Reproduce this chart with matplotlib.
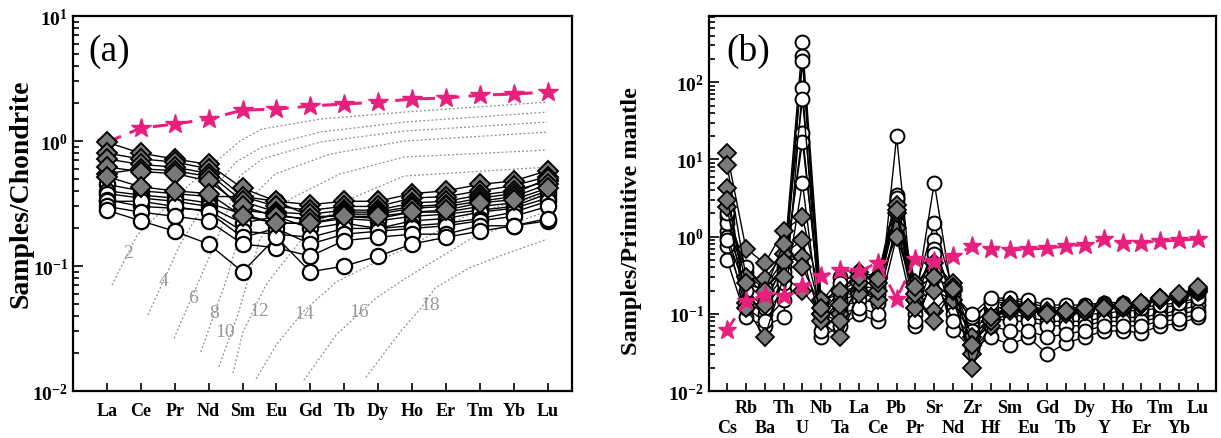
import matplotlib
matplotlib.use("Agg")
import matplotlib.pyplot as plt
from matplotlib.ticker import FixedLocator, LogLocator, NullFormatter

plt.rcParams["font.family"] = ["Liberation Serif", "DejaVu Serif"]
plt.rcParams["mathtext.fontset"] = "custom"
plt.rcParams["mathtext.rm"] = "Liberation Serif:bold"
plt.rcParams["mathtext.bf"] = "Liberation Serif:bold"
plt.rcParams["mathtext.it"] = "Liberation Serif:bold:italic"

# ---------------- panel (a): chondrite-normalised REE ----------------
ree = ["La", "Ce", "Pr", "Nd", "Sm", "Eu", "Gd", "Tb", "Dy", "Ho", "Er", "Tm", "Yb", "Lu"]

ree_star = [0.98, 1.27, 1.37, 1.50, 1.77, 1.80, 1.91, 1.98, 2.05, 2.17, 2.21, 2.33, 2.38, 2.47]

ree_circles = [
    [0.45, 0.40, 0.38, 0.36, 0.36, 0.33, 0.25, 0.25, 0.24, 0.27, 0.27, 0.30, 0.32, 0.40],
    [0.40, 0.37, 0.35, 0.32, 0.26, 0.22, 0.22, 0.24, 0.23, 0.25, 0.26, 0.28, 0.30, 0.38],
    [0.38, 0.35, 0.33, 0.30, 0.22, 0.25, 0.20, 0.22, 0.20, 0.23, 0.24, 0.27, 0.29, 0.35],
    [0.34, 0.30, 0.29, 0.28, 0.19, 0.18, 0.17, 0.20, 0.20, 0.21, 0.22, 0.24, 0.27, 0.33],
    [0.33, 0.33, 0.30, 0.27, 0.17, 0.20, 0.15, 0.18, 0.19, 0.20, 0.21, 0.23, 0.25, 0.30],
    [0.30, 0.27, 0.25, 0.23, 0.15, 0.14, 0.12, 0.16, 0.17, 0.18, 0.18, 0.21, 0.21, 0.23],
    [0.28, 0.23, 0.19, 0.15, 0.09, 0.17, 0.09, 0.10, 0.12, 0.15, 0.17, 0.19, 0.21, 0.24],
]

ree_diamonds = [
    [0.98, 0.80, 0.72, 0.65, 0.42, 0.33, 0.31, 0.33, 0.33, 0.38, 0.40, 0.45, 0.48, 0.58],
    [0.80, 0.72, 0.68, 0.60, 0.36, 0.30, 0.28, 0.30, 0.30, 0.35, 0.36, 0.40, 0.44, 0.52],
    [0.72, 0.65, 0.62, 0.55, 0.33, 0.27, 0.26, 0.28, 0.28, 0.32, 0.33, 0.37, 0.40, 0.48],
    [0.55, 0.60, 0.58, 0.52, 0.28, 0.26, 0.23, 0.27, 0.27, 0.30, 0.31, 0.35, 0.38, 0.50],
    [0.62, 0.57, 0.55, 0.48, 0.30, 0.25, 0.24, 0.26, 0.26, 0.29, 0.30, 0.33, 0.36, 0.45],
    [0.52, 0.43, 0.40, 0.38, 0.25, 0.22, 0.22, 0.25, 0.25, 0.27, 0.28, 0.32, 0.34, 0.42],
]

# dotted melting curves: (x positions, values), label and label position
melt_labels = ["2", "4", "6", "8", "10", "12", "14", "16", "18"]
melt_x = [
    [0.15, 0.89, 2.45, 3.92, 4.57, 6.28, 8.76, 12.98],
    [1.21, 2.15, 3.04, 3.80, 4.57, 6.28, 8.76, 12.98],
    [1.98, 3.25, 3.92, 4.57, 6.28, 8.76, 12.98],
    [2.77, 3.54, 4.22, 4.96, 6.58, 8.76, 12.98],
    [3.30, 3.86, 4.51, 5.40, 6.87, 8.76, 12.98],
    [3.72, 4.01, 4.69, 5.07, 5.99, 7.17, 8.76, 12.98],
    [4.40, 4.99, 5.78, 6.76, 7.94, 8.82, 10.71, 12.98],
    [5.81, 6.76, 7.94, 8.82, 10.71, 12.98],
    [7.64, 8.70, 9.29, 9.68, 10.68, 11.65, 12.98],
]
melt_y = [
    [0.0705, 0.177, 0.453, 1.00, 1.247, 1.50, 1.706, 2.05],
    [0.0406, 0.147, 0.377, 0.679, 0.895, 1.18, 1.419, 1.706],
    [0.0265, 0.164, 0.525, 0.718, 0.982, 1.202, 1.419],
    [0.0205, 0.0802, 0.344, 0.545, 0.787, 1.00, 1.18],
    [0.0156, 0.0406, 0.164, 0.344, 0.545, 0.745, 0.847],
    [0.0139, 0.0296, 0.0705, 0.0964, 0.198, 0.344, 0.525, 0.619],
    [0.0125, 0.0233, 0.0429, 0.0745, 0.1076, 0.139, 0.261, 0.377],
    [0.0122, 0.0281, 0.0555, 0.0802, 0.164, 0.275],
    [0.0129, 0.0308, 0.0470, 0.0667, 0.0964, 0.122, 0.164],
]
melt_label_x = [0.62, 1.68, 2.54, 3.16, 3.48, 4.48, 5.81, 7.43, 9.53]
melt_label_y = [0.129, 0.077, 0.0565, 0.0428, 0.0297, 0.0445, 0.042, 0.043, 0.0488]

# ---------------- panel (b): primitive-mantle-normalised spider ----------------
trace = ["Cs", "Rb", "Ba", "Th", "U", "Nb", "Ta", "La", "Ce", "Pb", "Pr", "Sr", "Nd",
         "Zr", "Hf", "Sm", "Eu", "Gd", "Tb", "Dy", "Y", "Ho", "Er", "Tm", "Yb", "Lu"]

trace_star = [0.062, 0.145, 0.177, 0.168, 0.227, 0.31, 0.37, 0.354, 0.46, 0.157, 0.51, 0.48,
              0.555, 0.75, 0.70, 0.665, 0.69, 0.71, 0.75, 0.79, 0.93, 0.83, 0.84, 0.87, 0.90, 0.93]

trace_circles = [
    [1.8, 0.35, 0.20, 0.40, 330, 0.14, 0.30, 0.28, 0.30, 3.5, 0.20, 1.5, 0.20, 0.08, 0.15,
     0.15, 0.14, 0.12, 0.12, 0.12, 0.13, 0.13, 0.13, 0.15, 0.16, 0.18],
    [1.2, 0.25, 0.15, 0.30, 220, 0.10, 0.20, 0.22, 0.22, 3.0, 0.15, 5.0, 0.15, 0.07, 0.12,
     0.12, 0.12, 0.10, 0.10, 0.10, 0.10, 0.11, 0.11, 0.12, 0.13, 0.15],
    [0.75, 0.15, 0.10, 0.20, 190, 0.08, 0.15, 0.18, 0.18, 2.5, 0.12, 0.9, 0.12, 0.06, 0.10,
     0.10, 0.09, 0.08, 0.08, 0.08, 0.09, 0.09, 0.09, 0.10, 0.11, 0.13],
    [0.50, 0.09, 0.07, 0.09, 85, 0.05, 0.07, 0.10, 0.08, 20, 0.07, 0.35, 0.062, 0.035, 0.05,
     0.04, 0.05, 0.03, 0.042, 0.05, 0.06, 0.06, 0.057, 0.07, 0.075, 0.09],
    [1.0, 0.20, 0.12, 0.25, 22, 0.09, 0.12, 0.15, 0.14, 1.5, 0.10, 0.5, 0.10, 0.05, 0.09,
     0.08, 0.08, 0.07, 0.07, 0.07, 0.08, 0.08, 0.08, 0.09, 0.10, 0.11],
    [1.5, 0.30, 0.18, 0.35, 17, 0.12, 0.25, 0.25, 0.25, 2.0, 0.18, 0.7, 0.17, 0.09, 0.14,
     0.14, 0.13, 0.11, 0.11, 0.11, 0.12, 0.12, 0.12, 0.13, 0.14, 0.16],
    [0.90, 0.12, 0.08, 0.15, 5.0, 0.06, 0.10, 0.12, 0.10, 1.0, 0.08, 0.3, 0.08, 0.045, 0.07,
     0.06, 0.06, 0.05, 0.055, 0.06, 0.07, 0.07, 0.07, 0.08, 0.085, 0.10],
    [2.0, 0.40, 0.22, 0.50, 60, 0.15, 0.18, 0.30, 0.28, 3.2, 0.20, 0.6, 0.18, 0.10, 0.16,
     0.16, 0.15, 0.13, 0.13, 0.13, 0.14, 0.14, 0.14, 0.16, 0.17, 0.19],
]

trace_diamonds = [
    [12, 0.7, 0.45, 1.2, 1.8, 0.15, 0.20, 0.35, 0.30, 2.6, 0.25, 0.45, 0.25, 0.05, 0.09,
     0.13, 0.12, 0.11, 0.11, 0.12, 0.13, 0.13, 0.14, 0.16, 0.17, 0.21],
    [8.5, 0.30, 0.28, 0.60, 0.9, 0.10, 0.10, 0.20, 0.15, 1.3, 0.15, 0.20, 0.15, 0.03, 0.07,
     0.11, 0.11, 0.10, 0.10, 0.11, 0.12, 0.12, 0.13, 0.15, 0.16, 0.19],
    [4.3, 0.14, 0.13, 0.47, 0.55, 0.08, 0.05, 0.18, 0.20, 2.0, 0.12, 0.11, 0.20, 0.02, 0.08,
     0.12, 0.11, 0.10, 0.11, 0.11, 0.12, 0.13, 0.13, 0.15, 0.17, 0.20],
    [2.4, 0.12, 0.05, 0.30, 0.20, 0.10, 0.08, 0.25, 0.25, 1.0, 0.18, 0.08, 0.22, 0.04, 0.08,
     0.13, 0.12, 0.10, 0.11, 0.11, 0.12, 0.13, 0.13, 0.16, 0.17, 0.21],
    [3.0, 0.25, 0.20, 0.80, 0.40, 0.12, 0.13, 0.30, 0.28, 2.2, 0.22, 0.30, 0.21, 0.04, 0.09,
     0.12, 0.12, 0.10, 0.11, 0.12, 0.12, 0.13, 0.14, 0.16, 0.18, 0.22],
]

PINK = "#E6207C"
GREY = "#7a7a7a"


def style_log_axis(ax, ticks, labels):
    ax.set_yscale("log")
    ax.yaxis.set_major_locator(FixedLocator(ticks))
    ax.set_yticklabels(labels)
    ax.yaxis.set_minor_locator(LogLocator(base=10, subs=range(2, 10), numticks=20))
    ax.yaxis.set_minor_formatter(NullFormatter())
    ax.tick_params(which="both", direction="in", top=False, right=False, width=1.2)
    ax.tick_params(axis="y", which="major", length=7, labelsize=14)
    ax.tick_params(axis="y", which="minor", length=4)
    for s in ax.spines.values():
        s.set_linewidth(1.6)
    for lbl in ax.get_yticklabels():
        lbl.set_fontweight("bold")


fig = plt.figure(figsize=(12.21, 4.39), dpi=100)
ax1 = fig.add_axes([0.0598, 0.107, 0.4087, 0.854])
ax2 = fig.add_axes([0.5807, 0.107, 0.4152, 0.854])

# ---- (a)
xa = list(range(len(ree)))
for mx, my in zip(melt_x, melt_y):
    ax1.plot(mx, my, color="#8c8c8c", lw=0.9, ls=(0, (1.5, 1.8)), zorder=1)
for lab, lx, ly in zip(melt_labels, melt_label_x, melt_label_y):
    ax1.text(lx, ly, lab, color="#999999", fontsize=14, ha="center", va="center", zorder=2)

ax1.plot(xa, ree_star, color=PINK, lw=2.2, ls=(0, (5, 3)), marker="*", ms=15,
         mec=PINK, mfc=PINK, zorder=3)
for row in ree_circles:
    ax1.plot(xa, row, color="black", lw=1.0, marker="o", ms=11, mfc="white",
             mec="black", mew=1.6, zorder=4)
for row in ree_diamonds:
    ax1.plot(xa, row, color="black", lw=1.0, marker="D", ms=10, mfc=GREY,
             mec="black", mew=1.4, zorder=5)

ax1.set_xlim(-1.0, 13.72)
ax1.set_ylim(1e-2, 1e1)
style_log_axis(ax1, [1e-2, 1e-1, 1e0, 1e1],
               [r"$\mathbf{10^{-2}}$", r"$\mathbf{10^{-1}}$", r"$\mathbf{10^{0}}$", r"$\mathbf{10^{1}}$"])
ax1.set_xticks(xa)
ax1.set_xticklabels(ree, fontweight="bold", fontsize=13)
ax1.tick_params(axis="x", which="major", length=6, pad=8)
ax1.tick_params(axis="x", which="minor", bottom=False)
ax1.set_ylabel("Samples/Chondrite", fontsize=20, fontweight="bold")
ax1.yaxis.set_label_coords(-0.079, 0.528)
ax1.text(0.03, 0.955, "(a)", transform=ax1.transAxes, fontsize=27, ha="left", va="top")

# ---- (b)
xb = list(range(len(trace)))
for row in trace_circles:
    ax2.plot(xb, row, color="black", lw=1.0, marker="o", ms=10, mfc="white",
             mec="black", mew=1.4, zorder=3)
for row in trace_diamonds:
    ax2.plot(xb, row, color="black", lw=1.0, marker="D", ms=9, mfc=GREY,
             mec="black", mew=1.3, zorder=4)
ax2.plot(xb, trace_star, color=PINK, lw=2.0, ls=(0, (5, 3)), marker="*", ms=14,
         mec=PINK, mfc=PINK, zorder=5)

ax2.set_xlim(-0.96, 25.96)
ax2.set_ylim(1e-2, 720)
style_log_axis(ax2, [1e-2, 1e-1, 1e0, 1e1, 1e2],
               [r"$\mathbf{10^{-2}}$", r"$\mathbf{10^{-1}}$", r"$\mathbf{10^{0}}$",
                r"$\mathbf{10^{1}}$", r"$\mathbf{10^{2}}$"])
# two rows of element labels: even positions on the lower row, odd on the upper row
ax2.set_xticks(xb[0::2])
ax2.set_xticklabels(trace[0::2], fontweight="bold", fontsize=13)
ax2.set_xticks(xb[1::2], minor=True)
ax2.set_xticklabels(trace[1::2], minor=True, fontweight="bold", fontsize=13)
ax2.tick_params(axis="x", which="major", length=6, pad=20)
ax2.tick_params(axis="x", which="minor", length=6, width=1.2, pad=6)
ax2.set_ylabel("Samples/Primitive mantle", fontsize=17.5, fontweight="bold")
ax2.yaxis.set_label_coords(-0.133, 0.456)
ax2.text(0.035, 0.955, "(b)", transform=ax2.transAxes, fontsize=27, ha="left", va="top")

fig.savefig("out.png", dpi=100)
